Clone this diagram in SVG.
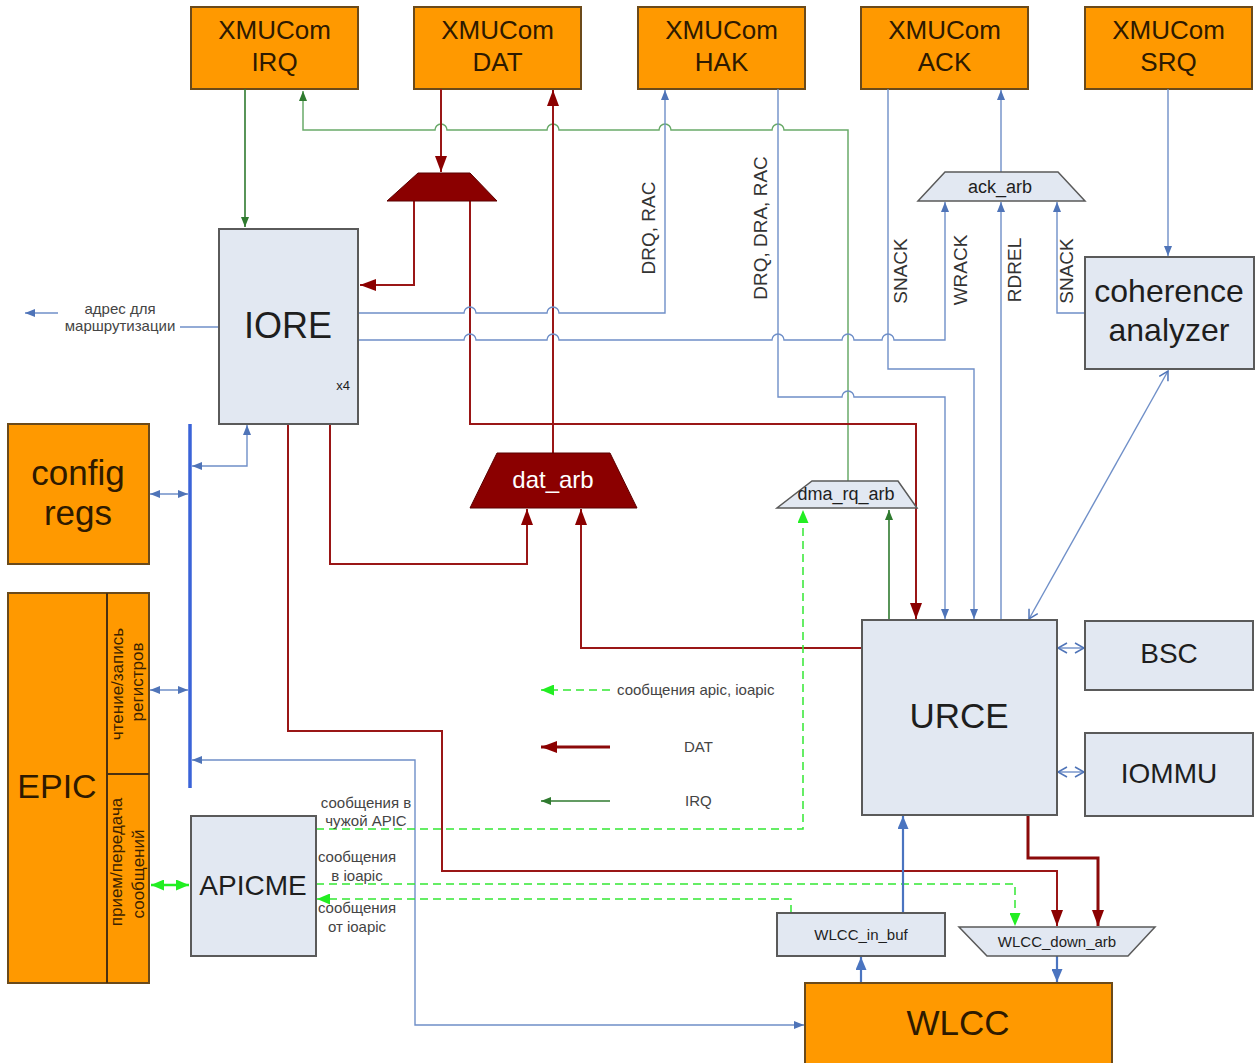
<svg xmlns="http://www.w3.org/2000/svg" width="1258" height="1063" viewBox="0 0 1258 1063">
<style>
  text { font-family: "Liberation Sans", Arial, sans-serif; }
  .org { fill: #FF9900; stroke: #6b4a1a; stroke-width: 2; }
  .otx { fill: #2e1a00; text-anchor: middle; }
  .box { fill: #E2E8F2; stroke: #5a5a5a; stroke-width: 2; }
  .btx { fill: #1e1e1e; text-anchor: middle; }
  .sm { fill: #444; font-size: 15px; text-anchor: middle; }
  .lg { fill: #444; font-size: 15px; text-anchor: start; }
  .vl { fill: #333; font-size: 19px; text-anchor: middle; }
  .ep { fill: #3b2200; font-size: 17px; text-anchor: middle; }
  .bl { fill: none; stroke: #6f8fc8; stroke-width: 1.4; }
  .blt { fill: none; stroke: #4a74c0; stroke-width: 2.2; }
  .rd { fill: none; stroke: #9a1616; stroke-width: 2; }
  .rdt { fill: none; stroke: #8b0a0a; stroke-width: 3; }
  .gr { fill: none; stroke: #6aaa6a; stroke-width: 1.5; }
  .grd { fill: none; stroke: #2f7a2f; stroke-width: 1.6; }
  .lm { fill: none; stroke: #33e833; stroke-width: 1.5; stroke-dasharray: 8 5; }
  .trr { fill: #8B0000; stroke: #5a0000; stroke-width: 1; }
  .trb { fill: #E2E8F2; stroke: #5a5a5a; stroke-width: 1.5; }
</style>
<defs>
  <marker id="mB" markerUnits="userSpaceOnUse" markerWidth="10" markerHeight="8" refX="10" refY="4" orient="auto-start-reverse"><path d="M0,0 L10,4 L0,8 z" fill="#4f74b8"/></marker>
  <marker id="mBB" markerUnits="userSpaceOnUse" markerWidth="13" markerHeight="11" refX="13" refY="5.5" orient="auto-start-reverse"><path d="M0,0 L13,5.5 L0,11 z" fill="#4a74c0"/></marker>
  <marker id="mBO" markerUnits="userSpaceOnUse" markerWidth="12" markerHeight="12" refX="10" refY="6" orient="auto-start-reverse"><path d="M1,1 L10,6 L1,11" fill="none" stroke="#4f74b8" stroke-width="1.5"/></marker>
  <marker id="mR" markerUnits="userSpaceOnUse" markerWidth="16" markerHeight="12" refX="16" refY="6" orient="auto-start-reverse"><path d="M0,0 L16,6 L0,12 z" fill="#8b0000"/></marker>
  <marker id="mG" markerUnits="userSpaceOnUse" markerWidth="10" markerHeight="8" refX="10" refY="4" orient="auto-start-reverse"><path d="M0,0 L10,4 L0,8 z" fill="#2f7a2f"/></marker>
  <marker id="mL" markerUnits="userSpaceOnUse" markerWidth="13" markerHeight="11" refX="13" refY="5.5" orient="auto-start-reverse"><path d="M0,0 L13,5.5 L0,11 z" fill="#22ee22"/></marker>
</defs>

<!-- top XMUCom nodes -->
<g id="xmu-irq"><rect class="org" x="191" y="7" width="167" height="82"/><text class="otx" x="274.5" y="39" font-size="26">XMUCom</text><text class="otx" x="274.5" y="71" font-size="26">IRQ</text></g>
<g id="xmu-dat"><rect class="org" x="414" y="7" width="167" height="82"/><text class="otx" x="497.5" y="39" font-size="26">XMUCom</text><text class="otx" x="497.5" y="71" font-size="26">DAT</text></g>
<g id="xmu-hak"><rect class="org" x="638" y="7" width="167" height="82"/><text class="otx" x="721.5" y="39" font-size="26">XMUCom</text><text class="otx" x="721.5" y="71" font-size="26">HAK</text></g>
<g id="xmu-ack"><rect class="org" x="861" y="7" width="167" height="82"/><text class="otx" x="944.5" y="39" font-size="26">XMUCom</text><text class="otx" x="944.5" y="71" font-size="26">ACK</text></g>
<g id="xmu-srq"><rect class="org" x="1085" y="7" width="167" height="82"/><text class="otx" x="1168.5" y="39" font-size="26">XMUCom</text><text class="otx" x="1168.5" y="71" font-size="26">SRQ</text></g>

<!-- connectors -->
<g id="connectors">
  <!-- IRQ -->
  <path class="grd" d="M245,89 L245,227" marker-end="url(#mG)"/>
  <path class="gr" d="M303,91 L303,130 L435,130 A6,6 0 0 1 447,130 L547,130 A6,6 0 0 1 559,130 L659,130 A6,6 0 0 1 671,130 L772,130 A6,6 0 0 1 784,130 L848,130 L848,481" marker-start="url(#mG)"/>
  <path class="grd" d="M889,620 L889,510" marker-end="url(#mG)"/>

  <!-- DAT -->
  <path class="rd" d="M441,89 L441,172" marker-end="url(#mR)"/>
  <path class="rd" d="M414,201 L414,285 L360,285" marker-end="url(#mR)"/>
  <path class="rd" d="M470,201 L470,424 L916,424 L916,619" marker-end="url(#mR)"/>
  <path class="rd" d="M553,453 L553,90" marker-end="url(#mR)"/>
  <path class="rd" d="M330,424 L330,564 L527,564 L527,509" marker-end="url(#mR)"/>
  <path class="rd" d="M862,648 L581,648 L581,509" marker-end="url(#mR)"/>
  <path class="rd" d="M288,424 L288,731 L442,731 L442,871 L1057,871 L1057,926" marker-end="url(#mR)"/>
  <path class="rdt" d="M1028,815 L1028,858 L1098,858 L1098,926" marker-end="url(#mR)"/>

  <!-- blue request / ack lines -->
  <path class="bl" d="M359,313 L464,313 A6,6 0 0 1 476,313 L547,313 A6,6 0 0 1 559,313 L665,313 L665,90" marker-end="url(#mB)"/>
  <path class="bl" d="M359,340 L464,340 A6,6 0 0 1 476,340 L547,340 A6,6 0 0 1 559,340 L772,340 A6,6 0 0 1 784,340 L842,340 A6,6 0 0 1 854,340 L882,340 A6,6 0 0 1 894,340 L945,340 L945,202" marker-end="url(#mB)"/>
  <path class="bl" d="M778,89 L778,397 L842,397 A6,6 0 0 1 854,397 L945,397 L945,619" marker-end="url(#mB)"/>
  <path class="bl" d="M888,89 L888,369 L974,369 L974,619" marker-end="url(#mB)"/>
  <path class="bl" d="M1001,620 L1001,202" marker-end="url(#mB)"/>
  <path class="bl" d="M1085,313 L1057,313 L1057,202" marker-end="url(#mB)"/>
  <path class="bl" d="M1001,172 L1001,90" marker-end="url(#mB)"/>
  <path class="bl" d="M1168,89 L1168,256" marker-end="url(#mB)"/>
  <path class="bl" d="M1168,371 L1029,619" marker-start="url(#mBO)" marker-end="url(#mBO)"/>
  <path class="bl" d="M1058,648 L1084,648" marker-start="url(#mBO)" marker-end="url(#mBO)"/>
  <path class="bl" d="M1058,772 L1084,772" marker-start="url(#mBO)" marker-end="url(#mBO)"/>

  <!-- address for routing -->
  <path class="bl" d="M219,327 L180,327"/>
  <path class="bl" d="M58,313 L25,313" marker-end="url(#mB)"/>

  <!-- bus -->
  <path d="M190,424 L190,788" fill="none" stroke="#3a63d8" stroke-width="3.5"/>
  <path class="bl" d="M192,466 L247,466 L247,425" marker-start="url(#mB)" marker-end="url(#mB)"/>
  <path class="bl" d="M150,494 L188,494" marker-start="url(#mB)" marker-end="url(#mB)"/>
  <path class="bl" d="M150,690 L188,690" marker-start="url(#mB)" marker-end="url(#mB)"/>
  <path class="bl" d="M192,760 L415,760 L415,1025 L804,1025" marker-start="url(#mB)" marker-end="url(#mB)"/>

  <!-- APIC messages -->
  <path d="M151,885 L189,885" fill="none" stroke="#22ee22" stroke-width="2.5" marker-start="url(#mL)" marker-end="url(#mL)"/>
  <path class="lm" d="M316,829 L803,829 L803,510" marker-end="url(#mL)"/>
  <path class="lm" d="M316,884 L1015,884 L1015,926" marker-end="url(#mL)"/>
  <path class="lm" d="M791,913 L791,899 L317,899" marker-end="url(#mL)"/>

  <!-- WLCC -->
  <path class="blt" d="M861,983 L861,957" marker-end="url(#mBB)"/>
  <path class="blt" d="M903,913 L903,816" marker-end="url(#mBB)"/>
  <path class="blt" d="M1057,956 L1057,982" marker-end="url(#mBB)"/>

  <!-- legend -->
  <path class="lm" d="M610,690 L541,690" marker-end="url(#mL)"/>
  <path class="rdt" d="M610,747 L541,747" marker-end="url(#mR)"/>
  <path class="grd" d="M610,801 L541,801" marker-end="url(#mG)"/>
</g>

<!-- connector labels -->
<g id="labels">
  <text class="vl" transform="translate(655,228) rotate(-90)">DRQ, RAC</text>
  <text class="vl" transform="translate(767,228) rotate(-90)">DRQ, DRA, RAC</text>
  <text class="vl" transform="translate(907,271) rotate(-90)">SNACK</text>
  <text class="vl" transform="translate(967,270) rotate(-90)">WRACK</text>
  <text class="vl" transform="translate(1021,270) rotate(-90)">RDREL</text>
  <text class="vl" transform="translate(1073,271) rotate(-90)">SNACK</text>
  <text class="sm" x="120" y="314">адрес для</text>
  <text class="sm" x="120" y="331">маршрутизации</text>
  <text class="sm" x="366" y="808">сообщения в</text>
  <text class="sm" x="366" y="826">чужой APIC</text>
  <text class="sm" x="357" y="862">сообщения</text>
  <text class="sm" x="357" y="881">в ioapic</text>
  <text class="sm" x="357" y="913">сообщения</text>
  <text class="sm" x="357" y="932">от ioapic</text>
  <text class="lg" x="617" y="695">сообщения apic, ioapic</text>
  <text class="lg" x="684" y="752">DAT</text>
  <text class="lg" x="685" y="806">IRQ</text>
</g>

<!-- nodes -->
<g id="iore"><rect class="box" x="219" y="229" width="139" height="195"/><text class="btx" x="288" y="338" font-size="36">IORE</text><text class="btx" x="343" y="390" font-size="13">x4</text></g>
<g id="dat-mux"><polygon class="trr" points="418,173 470,173 497,201 387,201"/></g>
<g id="dat-arb"><polygon class="trr" points="497,453 610,453 637,508 470,508"/><text x="553" y="488" font-size="24" fill="#ffffff" text-anchor="middle">dat_arb</text></g>
<g id="ack-arb"><polygon class="trb" points="945,172 1058,172 1085,201 918,201"/><text class="btx" x="1000" y="193" font-size="18">ack_arb</text></g>
<g id="dma-rq-arb"><polygon class="trb" points="812,481 898,481 917,508 777,508"/><text class="btx" x="846" y="500" font-size="18">dma_rq_arb</text></g>
<g id="coherence"><rect class="box" x="1085" y="257" width="169" height="112"/><text class="btx" x="1169" y="302" font-size="32">coherence</text><text class="btx" x="1169" y="341" font-size="32">analyzer</text></g>
<g id="config-regs"><rect class="org" x="8" y="424" width="141" height="140"/><text class="otx" x="78" y="485" font-size="35">config</text><text class="otx" x="78" y="525" font-size="35">regs</text></g>
<g id="epic">
  <rect class="org" x="8" y="593" width="141" height="390"/>
  <line x1="107" y1="593" x2="107" y2="983" stroke="#4a3010" stroke-width="2"/>
  <line x1="107" y1="774" x2="149" y2="774" stroke="#4a3010" stroke-width="2"/>
  <text class="otx" x="57" y="798" font-size="34">EPIC</text>
  <text class="ep" transform="translate(123,684) rotate(-90)">чтение/запись</text>
  <text class="ep" transform="translate(143,682) rotate(-90)">регистров</text>
  <text class="ep" transform="translate(122,862) rotate(-90)">прием/передача</text>
  <text class="ep" transform="translate(144,874) rotate(-90)">сообщений</text>
</g>
<g id="apicme"><rect class="box" x="191" y="816" width="125" height="140"/><text class="btx" x="253" y="895" font-size="28">APICME</text></g>
<g id="urce"><rect class="box" x="862" y="620" width="195" height="195"/><text class="btx" x="959" y="728" font-size="35">URCE</text></g>
<g id="bsc"><rect class="box" x="1085" y="621" width="168" height="69"/><text class="btx" x="1169" y="663" font-size="28">BSC</text></g>
<g id="iommu"><rect class="box" x="1085" y="733" width="168" height="83"/><text class="btx" x="1169" y="783" font-size="28">IOMMU</text></g>
<g id="wlcc-in-buf"><rect class="box" x="777" y="913" width="168" height="43"/><text class="btx" x="861" y="940" font-size="15">WLCC_in_buf</text></g>
<g id="wlcc-down-arb"><polygon class="trb" points="959,927 1155,927 1128,956 987,956"/><text class="btx" x="1057" y="947" font-size="15">WLCC_down_arb</text></g>
<g id="wlcc"><rect class="org" x="805" y="983" width="307" height="90"/><text class="otx" x="958" y="1035" font-size="35">WLCC</text></g>
</svg>
